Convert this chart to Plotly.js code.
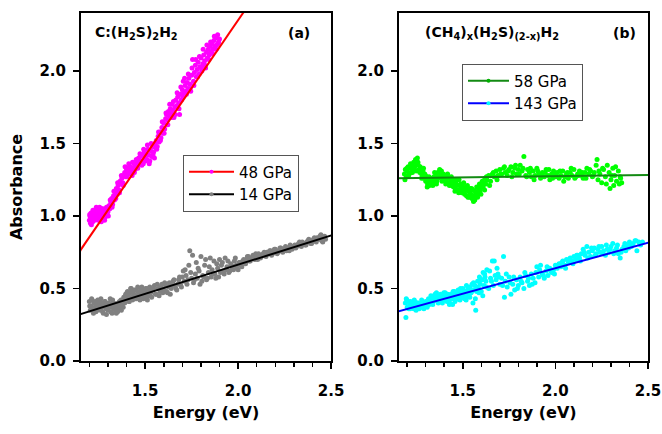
<!DOCTYPE html>
<html>
<head>
<meta charset="utf-8">
<script src="https://cdn.plot.ly/plotly-3.0.1.min.js"></script>
<style>html,body{margin:0;padding:0;background:#fff;}#chart{width:662px;height:434px;}</style>
</head>
<body>
<div id="chart"></div>
<script>
// ---- Panel (a): 48 GPa data (magenta) ----
const magX = [1.200,1.203,1.206,1.209,1.212,1.215,1.218,1.221,1.224,1.227,1.230,1.233,1.236,1.239,1.242,1.245,1.248,1.251,1.254,1.257,1.260,1.263,1.266,1.269,1.272,1.275,1.278,1.281,1.284,1.287,1.290,1.295,1.300,1.305,1.310,1.315,1.320,1.325,1.330,1.335,1.340,1.345,1.350,1.355,1.360,1.365,1.370,1.375,1.380,1.385,1.390,1.395,1.400,1.405,1.410,1.415,1.420,1.425,1.430,1.435,1.440,1.445,1.450,1.455,1.460,1.465,1.470,1.475,1.480,1.485,1.490,1.495,1.500,1.505,1.510,1.515,1.520,1.525,1.530,1.535,1.540,1.545,1.550,1.555,1.560,1.565,1.570,1.575,1.580,1.585,1.590,1.595,1.600,1.605,1.610,1.615,1.620,1.625,1.630,1.635,1.640,1.645,1.650,1.655,1.660,1.665,1.670,1.675,1.680,1.685,1.690,1.695,1.700,1.705,1.710,1.715,1.720,1.725,1.730,1.735,1.740,1.745,1.750,1.755,1.760,1.765,1.770,1.775,1.780,1.785,1.790,1.795,1.800,1.805,1.810,1.815,1.820,1.825,1.830,1.835,1.840,1.845,1.850,1.855,1.860,1.865,1.870,1.875,1.880,1.885,1.890,1.895,1.900];
const magY = [0.97,1.00,0.95,1.02,0.99,1.01,0.96,1.03,1.00,0.98,1.04,1.01,0.99,1.02,1.05,1.00,0.97,1.03,1.01,1.04,0.99,1.02,1.05,1.00,0.98,1.03,1.01,1.04,0.99,1.02,1.00,1.05,1.03,1.07,1.05,1.09,1.12,1.08,1.14,1.11,1.16,1.19,1.15,1.21,1.18,1.24,1.22,1.26,1.23,1.28,1.30,1.27,1.32,1.29,1.33,1.30,1.34,1.31,1.28,1.33,1.36,1.32,1.35,1.38,1.33,1.40,1.37,1.41,1.38,1.42,1.36,1.44,1.40,1.43,1.39,1.46,1.42,1.38,1.45,1.41,1.48,1.44,1.40,1.47,1.52,1.48,1.55,1.51,1.58,1.54,1.61,1.57,1.64,1.60,1.67,1.70,1.66,1.72,1.69,1.74,1.71,1.77,1.73,1.68,1.75,1.80,1.76,1.82,1.78,1.70,1.84,1.80,1.87,1.93,1.85,1.90,1.86,1.92,1.88,1.95,1.91,1.86,1.97,2.08,1.93,1.99,2.04,1.96,2.01,2.06,1.98,2.03,2.09,2.00,2.05,2.11,2.07,2.02,2.13,2.09,2.15,2.11,2.17,2.13,2.19,2.15,2.21,2.17,2.23,2.18,2.25,2.20,2.22];
const magX2 = [1.202,1.211,1.219,1.228,1.237,1.246,1.255,1.264,1.273,1.282,1.292,1.302,1.312,1.322,1.332,1.342,1.352,1.362,1.372,1.382,1.392,1.402,1.412,1.422,1.432,1.442,1.452,1.462,1.472,1.482,1.492,1.502,1.512,1.522,1.532,1.542,1.552,1.562,1.572,1.582,1.592,1.602,1.612,1.622,1.632,1.642,1.652,1.662,1.672,1.682,1.692,1.702,1.712,1.722,1.732,1.742,1.752,1.762,1.772,1.782,1.792,1.802,1.812,1.822,1.832,1.842,1.852,1.862,1.872,1.882,1.892];
const magY2 = [1.01,0.94,1.04,0.97,1.06,0.98,1.06,0.96,1.05,0.97,1.06,1.00,1.11,1.06,1.17,1.12,1.23,1.16,1.28,1.21,1.34,1.27,1.36,1.29,1.37,1.30,1.39,1.35,1.43,1.35,1.46,1.38,1.49,1.36,1.50,1.42,1.50,1.46,1.58,1.52,1.65,1.57,1.71,1.63,1.77,1.68,1.79,1.70,1.85,1.74,1.89,1.82,1.95,1.84,1.98,1.88,2.02,1.90,2.08,1.96,2.10,2.02,2.15,2.04,2.18,2.08,2.20,2.12,2.24,2.15,2.19];

// ---- Panel (a): 14 GPa data (grey) ----
const greyX = [1.200,1.205,1.210,1.215,1.220,1.225,1.230,1.235,1.240,1.245,1.250,1.255,1.260,1.265,1.270,1.275,1.280,1.285,1.290,1.295,1.300,1.305,1.310,1.315,1.320,1.325,1.330,1.335,1.340,1.345,1.350,1.355,1.360,1.365,1.370,1.375,1.380,1.385,1.390,1.395,1.400,1.405,1.410,1.415,1.420,1.425,1.430,1.435,1.440,1.445,1.450,1.455,1.460,1.465,1.470,1.475,1.480,1.485,1.490,1.495,1.500,1.505,1.510,1.515,1.520,1.525,1.530,1.540,1.550,1.560,1.570,1.580,1.590,1.600,1.610,1.620,1.630,1.640,1.650,1.660,1.670,1.680,1.690,1.700,1.705,1.710,1.720,1.730,1.740,1.745,1.750,1.755,1.760,1.770,1.775,1.780,1.790,1.800,1.805,1.810,1.820,1.830,1.840,1.850,1.855,1.860,1.870,1.875,1.880,1.890,1.900,1.905,1.910,1.920,1.930,1.940,1.950,1.960,1.970,1.980,1.990,2.000,2.010,2.020,2.030,2.040,2.050,2.060,2.070,2.080,2.090,2.100,2.110,2.120,2.130,2.140,2.150,2.160,2.170,2.180,2.190,2.200,2.210,2.220,2.230,2.240,2.250,2.260,2.270,2.280,2.290,2.300,2.310,2.320,2.330,2.340,2.350,2.360,2.370,2.380,2.390,2.400,2.410,2.420,2.430,2.440,2.450,2.460,2.470];
const greyY = [0.41,0.35,0.38,0.42,0.36,0.40,0.37,0.34,0.39,0.42,0.36,0.38,0.35,0.40,0.37,0.33,0.39,0.41,0.36,0.38,0.35,0.40,0.37,0.34,0.39,0.42,0.36,0.38,0.35,0.33,0.37,0.40,0.36,0.39,0.42,0.38,0.41,0.44,0.40,0.46,0.43,0.48,0.45,0.41,0.47,0.50,0.44,0.48,0.46,0.43,0.49,0.45,0.51,0.47,0.44,0.48,0.50,0.46,0.43,0.49,0.47,0.44,0.50,0.48,0.45,0.51,0.47,0.49,0.52,0.46,0.50,0.48,0.53,0.49,0.52,0.47,0.54,0.50,0.55,0.52,0.49,0.56,0.53,0.58,0.62,0.55,0.59,0.56,0.76,0.61,0.57,0.73,0.54,0.60,0.68,0.57,0.62,0.72,0.55,0.59,0.66,0.56,0.61,0.71,0.58,0.63,0.69,0.60,0.57,0.64,0.70,0.61,0.66,0.62,0.71,0.65,0.61,0.67,0.64,0.69,0.66,0.63,0.68,0.65,0.70,0.67,0.72,0.69,0.71,0.73,0.70,0.72,0.74,0.71,0.73,0.75,0.72,0.74,0.76,0.73,0.75,0.77,0.74,0.76,0.78,0.75,0.77,0.76,0.78,0.80,0.77,0.79,0.78,0.80,0.82,0.79,0.81,0.80,0.82,0.84,0.81,0.83,0.85,0.82,0.84,0.86,0.83,0.85,0.84];
const greyX2 = [1.202,1.212,1.222,1.232,1.242,1.252,1.262,1.272,1.282,1.292,1.302,1.312,1.322,1.332,1.342,1.352,1.362,1.372,1.382,1.392,1.402,1.412,1.422,1.432,1.442,1.452,1.462,1.472,1.482,1.492,1.502,1.512,1.522,1.535,1.545,1.555,1.565,1.575,1.585,1.595,1.605,1.615,1.625,1.635,1.645,1.655,1.665,1.675,1.685,1.695,1.715,1.725,1.735,1.765,1.785,1.795,1.815,1.825,1.835,1.845,1.865,1.885,1.895,1.915,1.925,1.935,1.945,1.955,1.965,1.975,1.985,1.995,2.005,2.015,2.025,2.035,2.045,2.055,2.065,2.075,2.085,2.095,2.105,2.115,2.125,2.135,2.145,2.155,2.165,2.175,2.185,2.195,2.205,2.215,2.225,2.235,2.245,2.255,2.265,2.275,2.285,2.295,2.305,2.315,2.325,2.335,2.345,2.355,2.365,2.375,2.385,2.395,2.405,2.415,2.425,2.435,2.445,2.455,2.465];
const greyY2 = [0.38,0.43,0.33,0.41,0.35,0.40,0.43,0.34,0.41,0.32,0.39,0.43,0.33,0.40,0.38,0.34,0.41,0.35,0.37,0.43,0.47,0.41,0.50,0.42,0.49,0.43,0.48,0.42,0.51,0.45,0.50,0.42,0.49,0.44,0.50,0.46,0.53,0.45,0.51,0.47,0.54,0.48,0.51,0.46,0.52,0.56,0.50,0.53,0.58,0.51,0.63,0.53,0.66,0.56,0.64,0.53,0.58,0.70,0.57,0.65,0.60,0.67,0.58,0.68,0.60,0.63,0.69,0.62,0.66,0.63,0.71,0.64,0.68,0.66,0.69,0.68,0.70,0.72,0.69,0.71,0.72,0.74,0.70,0.73,0.72,0.74,0.73,0.75,0.74,0.76,0.74,0.77,0.76,0.75,0.78,0.77,0.76,0.79,0.78,0.76,0.79,0.78,0.80,0.79,0.81,0.80,0.82,0.81,0.80,0.83,0.82,0.81,0.84,0.83,0.85,0.84,0.87,0.82,0.86];

// ---- Panel (b): 58 GPa data (green) ----
const greenX = [1.185,1.190,1.195,1.200,1.205,1.210,1.215,1.220,1.225,1.230,1.235,1.240,1.245,1.250,1.255,1.260,1.265,1.270,1.275,1.280,1.285,1.290,1.295,1.300,1.305,1.310,1.315,1.320,1.325,1.330,1.335,1.340,1.345,1.350,1.355,1.360,1.365,1.370,1.375,1.380,1.385,1.390,1.395,1.400,1.405,1.410,1.415,1.420,1.425,1.430,1.435,1.440,1.445,1.450,1.455,1.460,1.465,1.470,1.475,1.480,1.485,1.490,1.495,1.500,1.505,1.510,1.515,1.520,1.525,1.530,1.535,1.540,1.545,1.550,1.555,1.560,1.565,1.570,1.575,1.580,1.585,1.590,1.595,1.600,1.605,1.610,1.615,1.620,1.625,1.630,1.640,1.650,1.660,1.670,1.680,1.690,1.700,1.710,1.720,1.730,1.740,1.750,1.760,1.770,1.780,1.790,1.800,1.810,1.820,1.830,1.840,1.850,1.860,1.870,1.880,1.890,1.900,1.910,1.920,1.930,1.940,1.950,1.960,1.970,1.980,1.990,2.000,2.010,2.020,2.030,2.040,2.050,2.060,2.070,2.080,2.090,2.100,2.110,2.120,2.130,2.140,2.150,2.160,2.170,2.180,2.190,2.200,2.210,2.220,2.225,2.230,2.240,2.250,2.260,2.270,2.280,2.290,2.295,2.300,2.310,2.315,2.320,2.330,2.340,2.345,2.350,2.358];
const greenY = [1.29,1.32,1.27,1.31,1.34,1.29,1.33,1.30,1.35,1.32,1.37,1.34,1.39,1.36,1.40,1.35,1.32,1.34,1.30,1.28,1.31,1.26,1.29,1.24,1.27,1.22,1.25,1.21,1.24,1.22,1.26,1.23,1.27,1.25,1.28,1.24,1.30,1.27,1.32,1.28,1.31,1.26,1.29,1.25,1.28,1.24,1.27,1.23,1.26,1.22,1.25,1.21,1.24,1.20,1.23,1.19,1.22,1.18,1.21,1.25,1.17,1.20,1.16,1.19,1.23,1.15,1.18,1.14,1.21,1.17,1.13,1.19,1.15,1.12,1.18,1.14,1.11,1.16,1.20,1.13,1.17,1.22,1.18,1.21,1.24,1.20,1.23,1.26,1.22,1.25,1.28,1.24,1.29,1.27,1.31,1.28,1.32,1.29,1.33,1.30,1.28,1.32,1.34,1.30,1.33,1.29,1.32,1.35,1.31,1.41,1.28,1.32,1.30,1.27,1.31,1.28,1.33,1.29,1.26,1.30,1.27,1.32,1.28,1.25,1.29,1.31,1.27,1.30,1.26,1.28,1.31,1.27,1.29,1.26,1.30,1.28,1.32,1.27,1.29,1.31,1.28,1.26,1.30,1.33,1.29,1.31,1.27,1.30,1.35,1.39,1.25,1.29,1.23,1.32,1.27,1.35,1.30,1.19,1.25,1.33,1.21,1.28,1.24,1.31,1.22,1.27,1.23];
const greenX2 = [1.188,1.198,1.208,1.218,1.228,1.238,1.248,1.258,1.268,1.278,1.288,1.298,1.308,1.318,1.328,1.338,1.348,1.358,1.368,1.378,1.388,1.398,1.408,1.418,1.428,1.438,1.448,1.458,1.468,1.478,1.488,1.498,1.508,1.518,1.528,1.538,1.548,1.558,1.568,1.578,1.588,1.598,1.608,1.618,1.628,1.645,1.665,1.685,1.705,1.725,1.745,1.765,1.785,1.805,1.825,1.845,1.865,1.885,1.905,1.925,1.945,1.965,1.985,2.005,2.025,2.045,2.065,2.085,2.105,2.125,2.145,2.165,2.185,2.205,2.235,2.255,2.275,2.305,2.325,2.352];
const greenY2 = [1.25,1.33,1.28,1.36,1.30,1.33,1.31,1.37,1.30,1.26,1.33,1.28,1.20,1.27,1.25,1.21,1.30,1.22,1.26,1.31,1.24,1.28,1.22,1.29,1.21,1.27,1.25,1.17,1.25,1.16,1.22,1.21,1.17,1.20,1.13,1.16,1.19,1.10,1.17,1.15,1.19,1.15,1.22,1.18,1.27,1.21,1.30,1.25,1.29,1.34,1.31,1.27,1.35,1.29,1.33,1.27,1.33,1.25,1.31,1.28,1.30,1.32,1.26,1.29,1.31,1.24,1.30,1.33,1.26,1.28,1.30,1.26,1.32,1.28,1.31,1.33,1.22,1.28,1.34,1.26];

// ---- Panel (b): 143 GPa data (cyan) ----
const cyanX = [1.190,1.195,1.193,1.200,1.205,1.210,1.215,1.220,1.225,1.230,1.235,1.240,1.245,1.250,1.255,1.260,1.265,1.270,1.275,1.280,1.285,1.290,1.295,1.300,1.305,1.310,1.315,1.320,1.325,1.330,1.335,1.340,1.345,1.350,1.355,1.360,1.365,1.370,1.375,1.380,1.385,1.390,1.395,1.400,1.405,1.410,1.415,1.420,1.425,1.430,1.435,1.440,1.445,1.450,1.455,1.460,1.465,1.470,1.475,1.480,1.485,1.490,1.495,1.500,1.505,1.510,1.515,1.520,1.525,1.530,1.535,1.540,1.545,1.550,1.555,1.560,1.565,1.570,1.575,1.580,1.585,1.590,1.595,1.600,1.605,1.610,1.615,1.620,1.625,1.630,1.640,1.650,1.660,1.665,1.670,1.680,1.690,1.700,1.710,1.720,1.725,1.730,1.740,1.750,1.760,1.770,1.780,1.790,1.800,1.810,1.820,1.830,1.840,1.850,1.860,1.870,1.880,1.890,1.900,1.910,1.920,1.930,1.940,1.950,1.960,1.970,1.980,1.990,2.000,2.010,2.020,2.030,2.040,2.050,2.060,2.070,2.080,2.090,2.100,2.110,2.120,2.130,2.140,2.150,2.160,2.170,2.180,2.190,2.200,2.210,2.220,2.230,2.240,2.250,2.260,2.270,2.280,2.290,2.300,2.310,2.320,2.330,2.340,2.350,2.360,2.370,2.380,2.390,2.400,2.410,2.420,2.430,2.440,2.450,2.460,2.470];
const cyanY = [0.40,0.43,0.30,0.37,0.41,0.38,0.36,0.40,0.37,0.39,0.36,0.41,0.38,0.37,0.40,0.38,0.36,0.39,0.37,0.40,0.38,0.36,0.39,0.41,0.38,0.40,0.43,0.39,0.42,0.40,0.44,0.41,0.43,0.46,0.42,0.45,0.41,0.44,0.42,0.46,0.43,0.40,0.45,0.42,0.47,0.44,0.41,0.45,0.43,0.40,0.46,0.43,0.39,0.45,0.48,0.42,0.46,0.44,0.49,0.45,0.42,0.47,0.44,0.50,0.46,0.43,0.48,0.52,0.45,0.49,0.46,0.51,0.47,0.53,0.40,0.49,0.52,0.35,0.48,0.55,0.50,0.58,0.53,0.48,0.56,0.61,0.52,0.58,0.55,0.63,0.50,0.57,0.69,0.52,0.69,0.56,0.60,0.53,0.57,0.72,0.44,0.55,0.51,0.58,0.46,0.53,0.49,0.56,0.52,0.58,0.54,0.50,0.59,0.55,0.52,0.60,0.57,0.54,0.65,0.58,0.66,0.60,0.57,0.62,0.59,0.64,0.61,0.63,0.66,0.64,0.67,0.65,0.69,0.66,0.70,0.68,0.71,0.69,0.72,0.70,0.73,0.71,0.74,0.77,0.73,0.79,0.75,0.72,0.76,0.78,0.74,0.77,0.75,0.79,0.76,0.73,0.77,0.75,0.79,0.81,0.76,0.78,0.74,0.71,0.77,0.79,0.76,0.80,0.82,0.79,0.81,0.83,0.76,0.82,0.80,0.82];
const cyanX2 = [1.198,1.208,1.218,1.228,1.238,1.248,1.258,1.268,1.278,1.288,1.298,1.308,1.318,1.328,1.338,1.348,1.358,1.368,1.378,1.388,1.398,1.408,1.418,1.428,1.438,1.448,1.458,1.468,1.478,1.488,1.498,1.508,1.518,1.528,1.538,1.548,1.558,1.568,1.578,1.588,1.598,1.608,1.618,1.628,1.645,1.655,1.675,1.685,1.695,1.715,1.735,1.755,1.775,1.795,1.815,1.835,1.855,1.875,1.895,1.915,1.935,1.955,1.975,1.995,2.015,2.035,2.055,2.075,2.095,2.115,2.135,2.155,2.175,2.195,2.215,2.235,2.255,2.275,2.295,2.315,2.335,2.355,2.375,2.395,2.415,2.435,2.455];
const cyanY2 = [0.42,0.36,0.41,0.38,0.42,0.35,0.40,0.38,0.42,0.37,0.40,0.37,0.41,0.45,0.39,0.44,0.47,0.40,0.45,0.41,0.47,0.42,0.46,0.39,0.44,0.48,0.41,0.47,0.43,0.50,0.44,0.48,0.42,0.50,0.44,0.48,0.54,0.43,0.51,0.47,0.56,0.45,0.60,0.51,0.62,0.55,0.59,0.64,0.58,0.52,0.60,0.54,0.58,0.50,0.55,0.61,0.57,0.53,0.61,0.63,0.59,0.65,0.62,0.60,0.66,0.68,0.64,0.70,0.67,0.73,0.69,0.75,0.71,0.78,0.73,0.79,0.74,0.80,0.77,0.74,0.80,0.75,0.81,0.78,0.80,0.83,0.81];

// ---- Linear fit end points ----
const fit48X = [1.0, 2.2],  fit48Y = [0.48, 2.725];
const fit14X = [1.0, 2.7],  fit14Y = [0.262, 0.946];
const fit58X = [1.0, 2.7],  fit58Y = [1.258, 1.287];
const fit143X = [1.0, 2.7], fit143Y = [0.288, 0.886];

const legendNames = ['48 GPa', '14 GPa', '58 GPa', '143 GPa'];
const panelLabels = ['(a)', '(b)'];
const sampleLabels = ['C:(H<sub>2</sub>S)<sub>2</sub>H<sub>2</sub>', '(CH<sub>4</sub>)<sub>x</sub>(H<sub>2</sub>S)<sub>(2-x)</sub>H<sub>2</sub>'];
const xTitle = 'Energy (eV)', yTitle = 'Absorbance';

const FONT = 'DejaVu Sans, Verdana, sans-serif';
const ms = 5;

const traces = [
  {x: magX.concat(magX2), y: magY.concat(magY2), xaxis: 'x', yaxis: 'y', mode: 'markers', marker: {color: '#ff00ff', size: ms}, showlegend: false, hoverinfo: 'skip'},
  {x: greyX.concat(greyX2), y: greyY.concat(greyY2), xaxis: 'x', yaxis: 'y', mode: 'markers', marker: {color: '#808080', size: ms}, showlegend: false, hoverinfo: 'skip'},
  {x: fit48X, y: fit48Y, xaxis: 'x', yaxis: 'y', mode: 'lines+markers', name: legendNames[0], line: {color: '#ff0000', width: 2}, marker: {color: '#ff00ff', size: 4}, legend: 'legend'},
  {x: fit14X, y: fit14Y, xaxis: 'x', yaxis: 'y', mode: 'lines+markers', name: legendNames[1], line: {color: '#000000', width: 2}, marker: {color: '#808080', size: 4}, legend: 'legend'},
  {x: greenX.concat(greenX2), y: greenY.concat(greenY2), xaxis: 'x2', yaxis: 'y2', mode: 'markers', marker: {color: '#00ff00', size: ms}, showlegend: false, hoverinfo: 'skip'},
  {x: cyanX.concat(cyanX2), y: cyanY.concat(cyanY2), xaxis: 'x2', yaxis: 'y2', mode: 'markers', marker: {color: '#00ffff', size: ms}, showlegend: false, hoverinfo: 'skip'},
  {x: fit58X, y: fit58Y, xaxis: 'x2', yaxis: 'y2', mode: 'lines+markers', name: legendNames[2], line: {color: '#138a13', width: 2}, marker: {color: '#00b000', size: 4}, legend: 'legend2'},
  {x: fit143X, y: fit143Y, xaxis: 'x2', yaxis: 'y2', mode: 'lines+markers', name: legendNames[3], line: {color: '#0000ff', width: 2}, marker: {color: '#00ffff', size: 4}, legend: 'legend2'}
];

function xax(domain, anchor) {
  return {
    domain: domain, anchor: anchor, range: [1.155, 2.5], dtick: 0.5, tick0: 0, tickformat: '.1f',
    showline: true, linewidth: 2, linecolor: '#000', mirror: true,
    ticks: 'outside', ticklen: 6, tickwidth: 1.5, tickcolor: '#000', ticklabelstandoff: 9,
    minor: {dtick: 0.1, ticks: 'outside', ticklen: 4, tickwidth: 1.5, tickcolor: '#000', showgrid: false},
    showgrid: false, zeroline: false,
    tickfont: {family: FONT, size: 15, color: '#000', weight: 'bold'},
    title: {text: '<b>' + xTitle + '</b>', font: {family: FONT, size: 16, color: '#000'}, standoff: 8}
  };
}
function yax(anchor, withTitle) {
  const a = {
    domain: [0, 1], range: [0, 2.4], dtick: 0.5, tick0: 0, tickformat: '.1f', anchor: anchor,
    showline: true, linewidth: 2, linecolor: '#000', mirror: true,
    ticks: 'outside', ticklen: 6, tickwidth: 1.5, tickcolor: '#000', ticklabelstandoff: 4,
    showgrid: false, zeroline: false,
    tickfont: {family: FONT, size: 15, color: '#000', weight: 'bold'}
  };
  if (withTitle) a.title = {text: '<b>' + yTitle + '</b>', font: {family: FONT, size: 16, color: '#000'}, standoff: 13};
  return a;
}

const layout = {
  width: 662, height: 434,
  margin: {l: 81, r: 14, t: 13, b: 73},
  paper_bgcolor: '#fff', plot_bgcolor: '#fff',
  font: {family: FONT, color: '#000'},
  xaxis: xax([0, 0.4411], 'y'), yaxis: yax('x', true),
  xaxis2: xax([0.5606, 1], 'y2'), yaxis2: yax('x2', false),
  legend: {x: 183/662, y: 1 - 154.5/434, xref: 'paper', yref: 'paper', xanchor: 'left', yanchor: 'top', itemwidth: 45,
           bgcolor: '#fff', bordercolor: '#555', borderwidth: 1, font: {family: FONT, size: 15, color: '#000'}, tracegroupgap: 0},
  legend2: {x: 462/662, y: 1 - 63.5/434, xref: 'paper', yref: 'paper', xanchor: 'left', yanchor: 'top', itemwidth: 41,
           bgcolor: '#fff', bordercolor: '#555', borderwidth: 1, font: {family: FONT, size: 15, color: '#000'}, tracegroupgap: 0},
  annotations: [
    {xref: 'paper', yref: 'paper', x: 92.7/662, y: 1 - 33/434, xanchor: 'left', yanchor: 'middle', showarrow: false, text: '<b>' + sampleLabels[0] + '</b>', font: {family: FONT, size: 14, color: '#000'}},
    {xref: 'paper', yref: 'paper', x: 312/662, y: 1 - 33/434, xanchor: 'right', yanchor: 'middle', showarrow: false, text: '<b>' + panelLabels[0] + '</b>', font: {family: FONT, size: 14, color: '#000'}},
    {xref: 'paper', yref: 'paper', x: 422.7/662, y: 1 - 33/434, xanchor: 'left', yanchor: 'middle', showarrow: false, text: '<b>' + sampleLabels[1] + '</b>', font: {family: FONT, size: 14, color: '#000'}},
    {xref: 'paper', yref: 'paper', x: 638/662, y: 1 - 33/434, xanchor: 'right', yanchor: 'middle', showarrow: false, text: '<b>' + panelLabels[1] + '</b>', font: {family: FONT, size: 14, color: '#000'}}
  ]
};

// convert page-pixel fractions into plot-area paper coordinates
const plotW = 662 - 81 - 14, plotH = 434 - 13 - 73;
layout.annotations.forEach(a => {
  a.x = (a.x * 662 - 81) / plotW;
  const py = (1 - a.y) * 434 - 13; a.y = 1 - py / plotH;
});
[layout.legend, layout.legend2].forEach(l => {
  l.x = (l.x * 662 - 81) / plotW;
  const py = (1 - l.y) * 434 - 13; l.y = 1 - py / plotH;
});

Plotly.newPlot('chart', traces, layout, {staticPlot: true});
</script>
</body>
</html>
